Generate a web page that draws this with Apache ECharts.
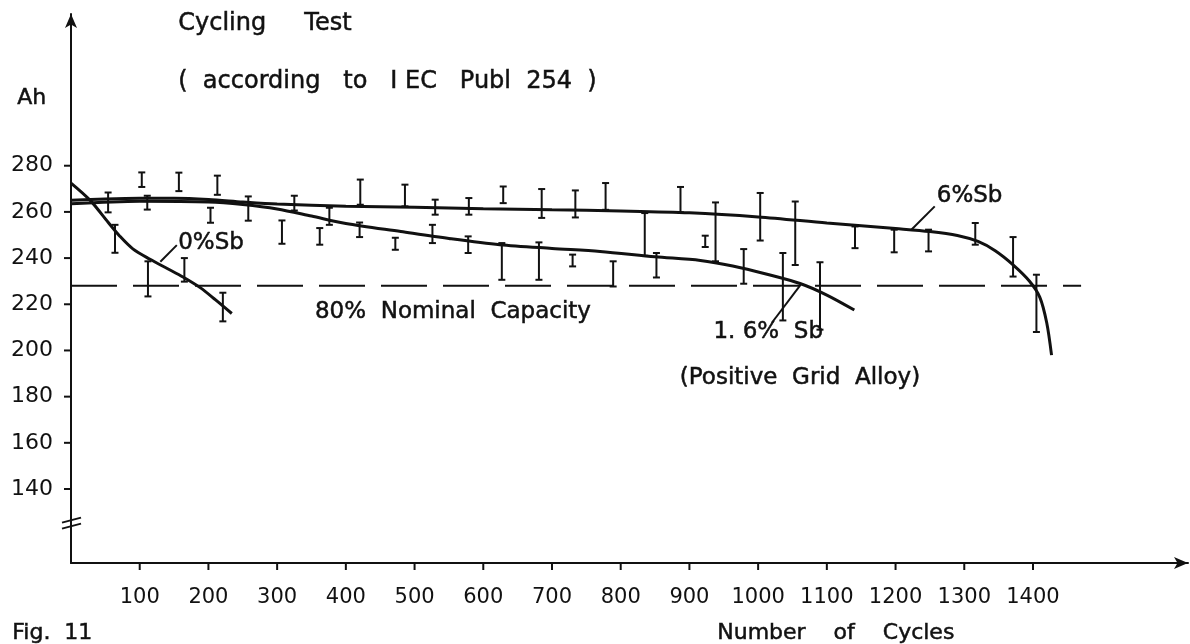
<!DOCTYPE html>
<html>
<head>
<meta charset="utf-8">
<script src="https://cdn.jsdelivr.net/npm/echarts@6/dist/echarts.min.js"></script>
<style>
html,body{margin:0;padding:0;background:#fff;}
#c{width:1190px;height:644px;}
</style>
</head>
<body>
<div id="c"></div>
<script>
// ---- data (cycles, Ah) ----
var xTicks = [100,200,300,400,500,600,700,800,900,1000,1100,1200,1300,1400];
var yTicks = [140,160,180,200,220,240,260,280];

var curve6 = [[0,265],[50,265.6],[100,265.9],[150,265.9],[200,265.4],[250,264.3],[300,263.4],[400,262.5],[500,262],[600,261.4],[700,260.9],[800,260.4],[900,259.6],[1000,257.8],[1100,255.2],[1200,252.8],[1250,251.5],[1290,249.8],[1320,247.2],[1345,243.2],[1371,237.1],[1395,230],[1410,223],[1420,212],[1427,198]];
var curve16 = [[0,263.5],[100,264.6],[200,264.3],[250,263.2],[300,261.3],[350,258.2],[400,255],[480,251.5],[550,248.5],[624,245.8],[700,244.2],[770,242.9],[850,240.6],[916,239],[963,236.6],[1013,233],[1061,229],[1100,224],[1140,217.5]];
var curve0 = [[0,272.5],[28,265],[54,255.5],[71,249.5],[90,244],[115,239.5],[140,235.5],[163,231.8],[188,227.2],[210,222],[234,216]];

// error bars: [cycles, low, high]
var errBars = [
 [54,259.8,268.4],[64,242.3,254.4],[103,270.8,277.1],[111,261,267],[112,223.4,238.6],
 [157,269,277],[165,229.8,240],[203,255.3,261.8],[213,267.4,275.7],[221,212.6,225],
 [258,256.2,266.7],[307,246.2,256.3],[325,260.6,267],[362,245.8,253],[376,254.4,261.8],
 [421,263.1,274],[420,249.1,255.4],[472,243.6,248.8],
 [486,262.4,271.8],[530,258.8,265.3],[526,246.5,254.4],[579,258.8,266],[578,242.2,249.4],
 [629,263.8,271],[627,230.6,246.5],[685,257.4,269.9],[681,230.6,246.8],[734,257.6,269.3],
 [730,236.4,241.5],[778,260.9,272.5],[789,227.7,238.6],[835,241,259.5],[852,231.6,242.2],
 [887,259.8,270.8],[923,244.8,249.7],[938,238.6,264.1],[979,228.9,243.9],[1003,247.6,268.2],
 [1036,213,242.2],[1054,237,264.5],
 [1090,209,238.2],[1141,244.3,253.7],[1198,242.5,252.3],[1248,242.9,252.3],[1316,245.8,255.2],
 [1371,232,249.1],[1405,208,232.8]
];

var nominal80 = [[0,228],[1470,228]];
var leader0 = [[130,238.4],[154,245.6]];
var leader6 = [[1223,252.3],[1257,262.4]];
var leader16 = [[1062,228.5],[1020,212]];

var annotations = [
 {text:'0%Sb', value:[156,246.7]},
 {text:'6%Sb', value:[1260,267]},
 {text:'80%  Nominal  Capacity', value:[355,216.8]},
 {text:'1. 6%  Sb', value:[935,208]},
 {text:'(Positive  Grid  Alloy)', value:[886,188]}
];
var axisBreak = [[0,125]];

var X_MIN = 0, X_MAX = 1625.6, Y_MIN = 107.96, Y_MAX = 345.7;
var FONT = 'DejaVu Sans';
var INK = '#111';

var chart = echarts.init(document.getElementById('c'), null, {renderer:'canvas'});

function lineSeries(data, w, sm){
  return {type:'line', data:data, smooth:sm, showSymbol:false, symbol:'none',
    lineStyle:{color:INK, width:w}, silent:true, z:3};
}
function straight(data, w){
  return {type:'line', data:data, showSymbol:false, symbol:'none', silent:true,
    lineStyle:{color:INK, width:w}, z:3};
}
var txtStyle = {fill:INK, stroke:INK, lineWidth:0.5};
function plain(v){ return String(v); }

var option = {
  animation:false,
  backgroundColor:'#fff',
  grid:{left:71, right:2, top:14, bottom:81, containLabel:false},
  xAxis:{type:'value', min:X_MIN, max:X_MAX,
    axisLine:{show:true, symbol:['none','arrow'], symbolSize:[9,14], lineStyle:{color:INK, width:2}},
    axisTick:{show:false},
    axisLabel:{customValues:xTicks, formatter:plain, margin:24, color:INK, fontFamily:FONT, fontSize:21},
    splitLine:{show:false}},
  yAxis:{type:'value', min:Y_MIN, max:Y_MAX,
    axisLine:{show:true, symbol:['none','arrow'], symbolSize:[9,14], lineStyle:{color:INK, width:2}},
    axisTick:{show:false},
    axisLabel:{customValues:yTicks, formatter:plain, margin:18, color:INK, fontFamily:FONT, fontSize:22},
    splitLine:{show:false}},
  graphic:[
    {type:'text', left:178, top:12, style:Object.assign({text:'Cycling     Test', font:'24px "DejaVu Sans"'}, txtStyle)},
    {type:'text', left:178, top:70, style:Object.assign({text:'(  according   to   I EC   Publ  254  )', font:'24px "DejaVu Sans"'}, txtStyle)},
    {type:'text', left:17, top:87, style:Object.assign({text:'Ah', font:'22px "DejaVu Sans"'}, txtStyle)},
    {type:'text', left:717, top:622, style:Object.assign({text:'Number    of    Cycles', font:'22px "DejaVu Sans"'}, txtStyle)},
    {type:'text', left:12, top:622, style:Object.assign({text:'Fig.  11', font:'22px "DejaVu Sans"'}, txtStyle)}
  ],
  series:[
    lineSeries(curve6, 3, 0.3),
    lineSeries(curve16, 3, 0.3),
    lineSeries(curve0, 3, 0.3),
    {type:'line', data:nominal80, showSymbol:false, symbol:'none', silent:true,
      lineStyle:{color:INK, width:2, type:[46,16]}, z:2},
    straight(leader0, 2),
    straight(leader6, 2),
    straight(leader16, 2),
    {type:'custom', data:errBars, encode:{x:0, y:[1,2]}, silent:true, z:4,
      renderItem:function(params, api){
        var x = api.value(0), lo = api.value(1), hi = api.value(2);
        var p1 = api.coord([x, hi]), p2 = api.coord([x, lo]);
        var w = 3.5, st = {stroke:INK, lineWidth:2};
        return {type:'group', children:[
          {type:'line', shape:{x1:p1[0], y1:p1[1], x2:p2[0], y2:p2[1]}, style:st},
          {type:'line', shape:{x1:p1[0]-w, y1:p1[1], x2:p1[0]+w, y2:p1[1]}, style:st},
          {type:'line', shape:{x1:p2[0]-w, y1:p2[1], x2:p2[0]+w, y2:p2[1]}, style:st}
        ]};
      }},
    // axis tick marks
    {type:'custom', data:xTicks.map(function(v){return [v, Y_MIN];}), encode:{x:0, y:1}, silent:true, z:5, clip:false,
      renderItem:function(params, api){
        var p = api.coord([api.value(0), api.value(1)]);
        return {type:'line', shape:{x1:p[0], y1:p[1], x2:p[0], y2:p[1]+7}, style:{stroke:INK, lineWidth:2}};
      }},
    {type:'custom', data:yTicks.map(function(v){return [X_MIN, v];}), encode:{x:0, y:1}, silent:true, z:5, clip:false,
      renderItem:function(params, api){
        var p = api.coord([api.value(0), api.value(1)]);
        return {type:'line', shape:{x1:p[0]-7, y1:p[1], x2:p[0], y2:p[1]}, style:{stroke:INK, lineWidth:2}};
      }},
    {type:'custom', data:axisBreak, encode:{x:0, y:1}, silent:true, z:5, clip:false,
      renderItem:function(params, api){
        var p = api.coord([api.value(0), api.value(1)]);
        var st = {stroke:INK, lineWidth:2};
        return {type:'group', children:[
          {type:'line', shape:{x1:p[0]-9, y1:p[1]-1, x2:p[0]+10, y2:p[1]-6}, style:st},
          {type:'line', shape:{x1:p[0]-9, y1:p[1]+5, x2:p[0]+10, y2:p[1]}, style:st}
        ]};
      }},
    {type:'custom', data:annotations.map(function(a){return a.value;}), encode:{x:0, y:1}, silent:true, z:6, clip:false,
      renderItem:function(params, api){
        var p = api.coord([api.value(0), api.value(1)]);
        return {type:'text', x:p[0], y:p[1],
          style:{text:annotations[params.dataIndex].text, font:'23px "DejaVu Sans"', fill:INK, stroke:INK, lineWidth:0.5,
            align:'left', verticalAlign:'middle'}};
      }}
  ]
};
chart.setOption(option);
</script>
</body>
</html>
